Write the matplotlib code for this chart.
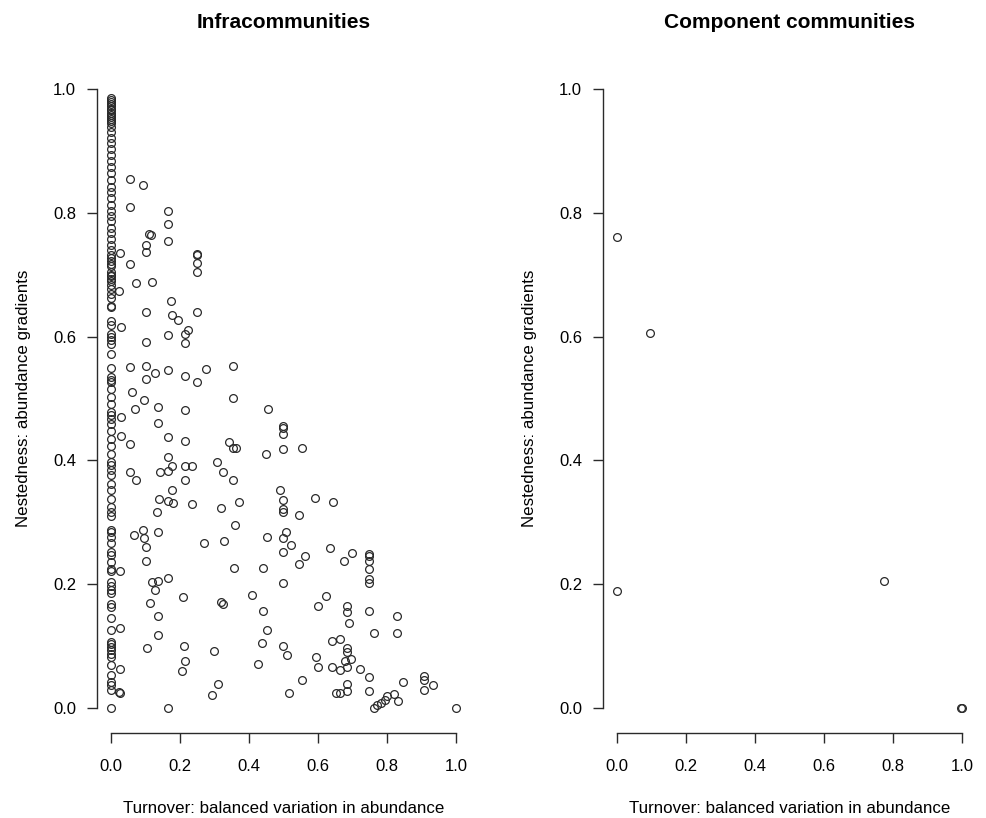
import matplotlib
matplotlib.use("Agg")
import matplotlib.pyplot as plt

plt.rcParams['font.family'] = ['Liberation Sans', 'DejaVu Sans']

# ---- Infracommunities: points at turnover = 0 ----
infra_zero_y = [0.985, 0.982, 0.978, 0.975, 0.972, 0.968, 0.965, 0.961, 0.958, 0.955,
                0.951, 0.948, 0.945, 0.938, 0.930, 0.921, 0.912, 0.903, 0.893, 0.884,
                0.874, 0.864, 0.853, 0.842, 0.833, 0.823, 0.812, 0.803, 0.795, 0.786,
                0.776, 0.767, 0.757, 0.748, 0.739, 0.731, 0.727, 0.722, 0.717, 0.714,
                0.705, 0.700, 0.697, 0.693, 0.690, 0.683, 0.676, 0.669, 0.662,
                0.650, 0.647, 0.625, 0.618, 0.604, 0.599, 0.594, 0.588, 0.572, 0.550,
                0.534, 0.530, 0.526, 0.516, 0.503, 0.491, 0.478, 0.473, 0.467, 0.459,
                0.448, 0.435, 0.424, 0.411, 0.397, 0.392, 0.384, 0.376, 0.362, 0.352,
                0.337, 0.325, 0.317, 0.311, 0.288, 0.284, 0.276, 0.266, 0.252, 0.247,
                0.236, 0.225, 0.221, 0.204, 0.198, 0.191, 0.186, 0.168, 0.163, 0.145,
                0.127, 0.107, 0.103, 0.099, 0.094, 0.088, 0.083, 0.069, 0.053, 0.042,
                0.037, 0.029, 0.000]

# ---- Infracommunities: remaining points ----
infra_x = [0.056, 0.092, 0.056, 0.165, 0.165, 0.110, 0.117, 0.165, 0.101, 0.101,
           0.027, 0.249, 0.249, 0.249, 0.249, 0.056, 0.072, 0.120, 0.024, 0.175,
           0.101, 0.176, 0.194, 0.249, 0.029, 0.165, 0.224, 0.214, 0.214, 0.101,
           0.056, 0.101, 0.127, 0.165, 0.101, 0.214, 0.275, 0.249, 0.060, 0.096,
           0.069, 0.136, 0.214, 0.029, 0.136, 0.029, 0.056, 0.165, 0.214, 0.165,
           0.176, 0.165, 0.142, 0.056, 0.072, 0.214, 0.234, 0.308, 0.324, 0.214,
           0.176, 0.140, 0.165, 0.180, 0.236, 0.319,
           0.134, 0.066, 0.092, 0.136, 0.096, 0.101, 0.101, 0.271, 0.329, 0.027,
           0.118, 0.136, 0.127, 0.165, 0.210, 0.113, 0.136, 0.319, 0.326, 0.027,
           0.136, 0.104, 0.213, 0.298, 0.214, 0.206, 0.027, 0.024, 0.027, 0.310,
           0.293, 0.165,
           0.355, 0.355, 0.454, 0.499, 0.499, 0.499, 0.342, 0.353, 0.362, 0.449,
           0.499, 0.554,
           0.353, 0.490, 0.499, 0.499, 0.499, 0.590, 0.644, 0.371, 0.361, 0.546,
           0.506, 0.499, 0.522, 0.452, 0.499, 0.635, 0.561, 0.545, 0.675, 0.358,
           0.442, 0.499, 0.410, 0.442, 0.622, 0.599, 0.452, 0.439, 0.499, 0.509,
           0.641, 0.664, 0.593, 0.599, 0.641, 0.664, 0.426, 0.554, 0.516, 0.652,
           0.664,
           0.699, 0.747, 0.747, 0.747, 0.747, 0.747, 0.747, 0.685, 0.685, 0.689,
           0.747, 0.830, 0.761, 0.830, 0.685, 0.685, 0.677, 0.695, 0.685, 0.721,
           0.747, 0.685, 0.685, 0.747, 0.907, 0.907, 0.907, 0.933, 0.847, 0.821,
           0.831, 0.799, 0.793, 0.783, 0.771, 0.761, 0.999]
infra_y = [0.855, 0.845, 0.809, 0.803, 0.782, 0.765, 0.764, 0.755, 0.748, 0.737,
           0.735, 0.733, 0.731, 0.719, 0.704, 0.717, 0.687, 0.688, 0.674, 0.658,
           0.639, 0.635, 0.626, 0.639, 0.615, 0.602, 0.611, 0.604, 0.589, 0.591,
           0.551, 0.553, 0.541, 0.546, 0.532, 0.537, 0.547, 0.527, 0.510, 0.498,
           0.483, 0.486, 0.481, 0.470, 0.461, 0.440, 0.427, 0.438, 0.431, 0.405,
           0.391, 0.383, 0.382, 0.382, 0.368, 0.391, 0.391, 0.397, 0.381, 0.368,
           0.353, 0.338, 0.335, 0.332, 0.329, 0.324,
           0.317, 0.279, 0.287, 0.285, 0.274, 0.260, 0.237, 0.267, 0.270, 0.222,
           0.204, 0.206, 0.191, 0.211, 0.180, 0.170, 0.149, 0.171, 0.168, 0.130,
           0.118, 0.098, 0.100, 0.092, 0.076, 0.060, 0.063, 0.026, 0.024, 0.039,
           0.021, 0.000,
           0.553, 0.501, 0.483, 0.456, 0.453, 0.443, 0.429, 0.420, 0.420, 0.411,
           0.419, 0.420,
           0.369, 0.352, 0.336, 0.322, 0.316, 0.339, 0.333, 0.333, 0.296, 0.312,
           0.284, 0.275, 0.263, 0.277, 0.253, 0.258, 0.245, 0.233, 0.237, 0.226,
           0.227, 0.202, 0.182, 0.157, 0.181, 0.165, 0.126, 0.105, 0.101, 0.086,
           0.108, 0.112, 0.083, 0.067, 0.067, 0.062, 0.071, 0.046, 0.024, 0.025,
           0.024,
           0.250, 0.249, 0.245, 0.238, 0.224, 0.209, 0.202, 0.165, 0.156, 0.138,
           0.157, 0.149, 0.121, 0.121, 0.098, 0.091, 0.077, 0.080, 0.067, 0.064,
           0.051, 0.039, 0.028, 0.027, 0.052, 0.045, 0.029, 0.038, 0.042, 0.023,
           0.012, 0.020, 0.013, 0.009, 0.005, 0.000, 0.000]

# ---- Component communities ----
comp_x = [0.0, 0.097, 0.0, 0.775, 0.997, 1.0]
comp_y = [0.760, 0.605, 0.190, 0.206, 0.0, 0.0]

ticks = [0.0, 0.2, 0.4, 0.6, 0.8, 1.0]
tick_labels = ["0.0", "0.2", "0.4", "0.6", "0.8", "1.0"]
titles = ["Infracommunities", "Component communities"]
xlabel = "Turnover: balanced variation in abundance"
ylabel = "Nestedness: abundance gradients"

W, H = 986, 818
fig = plt.figure(figsize=(W / 100, H / 100), dpi=100)
ax1 = fig.add_axes([97 / W, (H - 733) / H, 373 / W, (733 - 64) / H])
ax2 = fig.add_axes([603 / W, (H - 733) / H, 373 / W, (733 - 64) / H])

col = "#2a2a2a"
ax1.plot([0.0] * len(infra_zero_y), infra_zero_y, linestyle="none", marker="o",
         ms=5.6, mfc="none", mec=col, mew=0.9)
ax1.plot(infra_x, infra_y, linestyle="none", marker="o",
         ms=5.6, mfc="none", mec=col, mew=0.9)
ax2.plot(comp_x, comp_y, linestyle="none", marker="o",
         ms=5.6, mfc="none", mec=col, mew=0.9)

for ax, t in zip([ax1, ax2], titles):
    ax.set_xlim(-0.04, 1.04)
    ax.set_ylim(-0.04, 1.04)
    ax.spines['top'].set_visible(False)
    ax.spines['right'].set_visible(False)
    ax.spines['left'].set_bounds(0, 1)
    ax.spines['bottom'].set_bounds(0, 1)
    for s in ['left', 'bottom']:
        ax.spines[s].set_color(col)
        ax.spines[s].set_linewidth(1.0)
    ax.set_xticks(ticks)
    ax.set_xticklabels(tick_labels)
    ax.set_yticks(ticks)
    ax.set_yticklabels(tick_labels)
    ax.tick_params(axis='both', length=7, width=1.0, color=col, labelsize=12,
                   labelcolor='black')
    ax.tick_params(axis='x', pad=12)
    ax.tick_params(axis='y', pad=8)
    ax.set_xlabel(xlabel, fontsize=12.2, labelpad=19)
    ax.set_ylabel(ylabel, fontsize=12.2, labelpad=16)
    ax.set_title(t, fontsize=15, fontweight='bold', pad=26)
    ax.patch.set_visible(False)

fig.savefig("out.png", dpi=100)
